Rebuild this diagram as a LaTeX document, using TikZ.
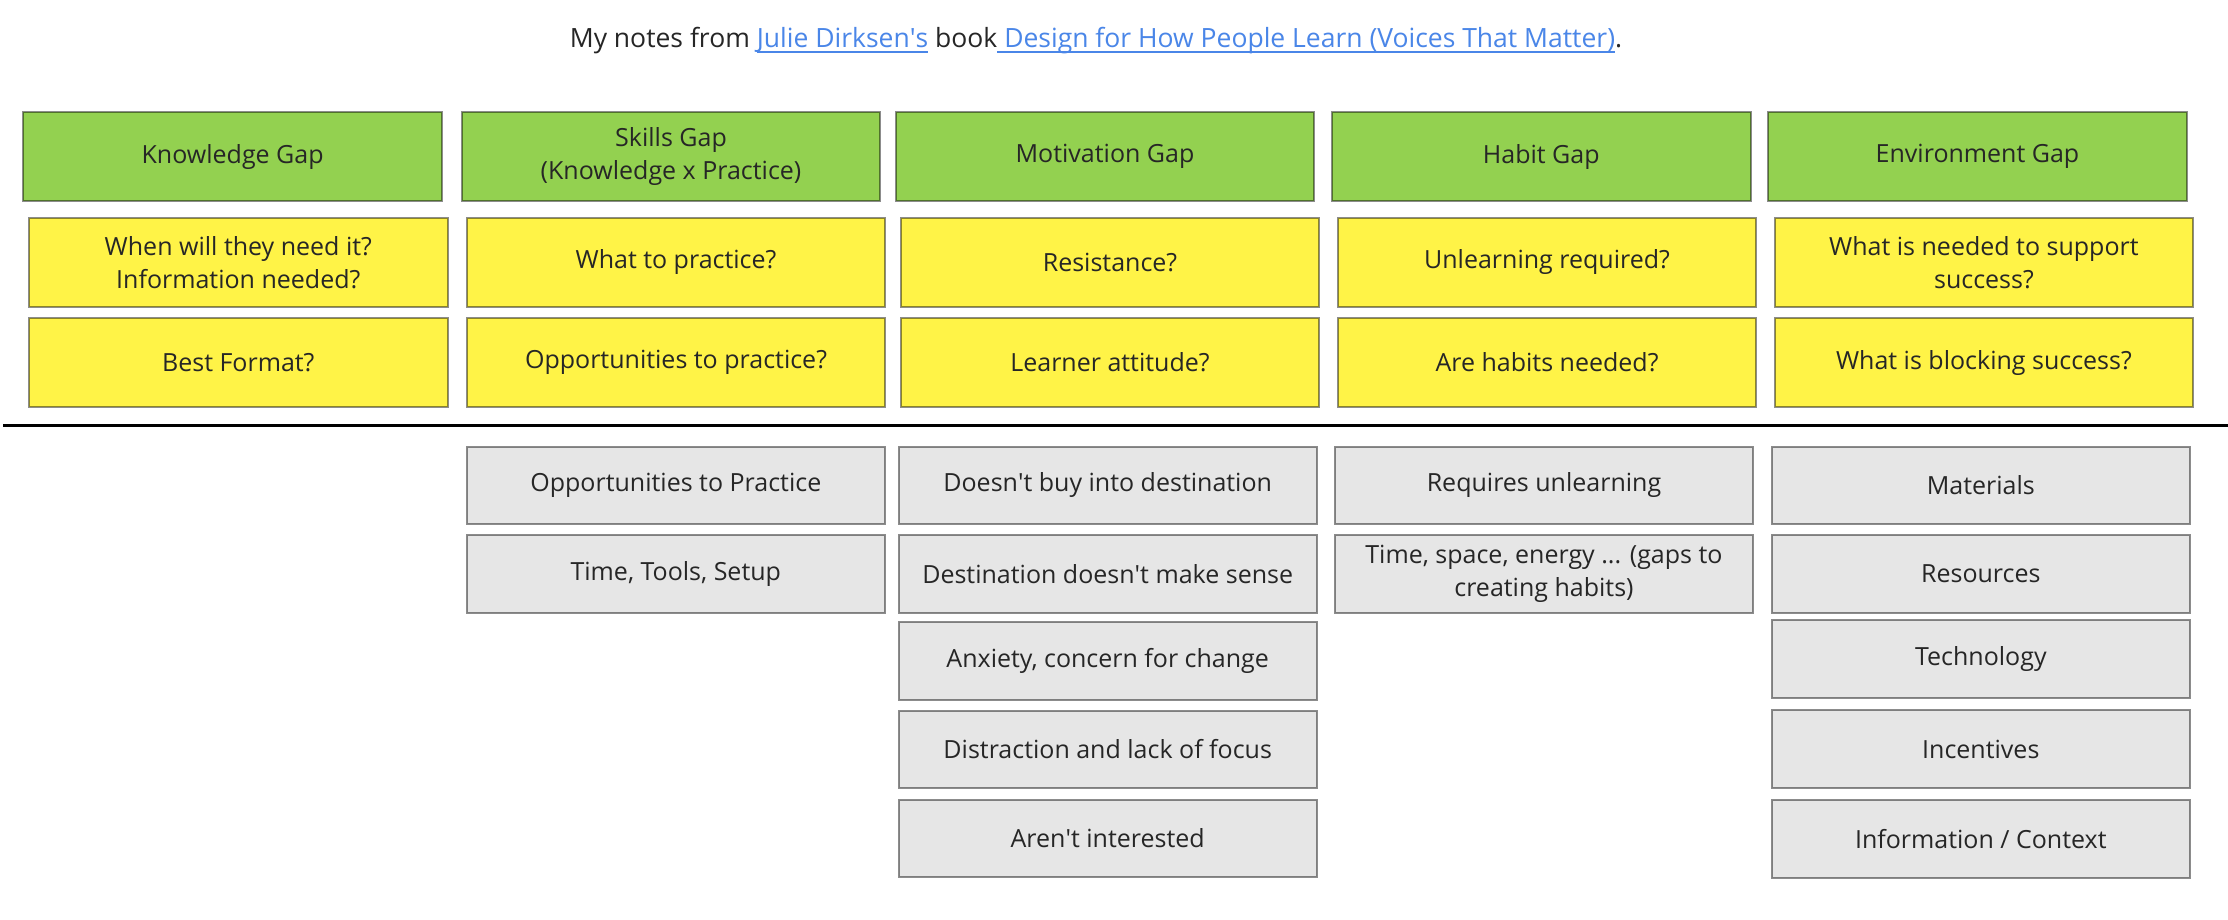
\documentclass[tikz,border=0pt]{standalone}
\usepackage{fontspec}
\setmainfont{Open Sans}
\usepackage{xcolor}
\definecolor{gapgreen}{HTML}{93D150}
\definecolor{qyellow}{HTML}{FFF347}
\definecolor{itemgray}{HTML}{E6E6E6}
\definecolor{linkblue}{HTML}{4A86E8}
\definecolor{txt}{HTML}{262626}
\newcommand\ulink[1]{\setbox0\hbox{\textcolor{linkblue}{#1}}\rlap{\textcolor{linkblue}{\rule[-5pt]{\wd0}{1.5pt}}}\box0\relax}
\newcommand\ap{\textquotesingle}
\begin{document}
\begin{tikzpicture}[x=1pt,y=-1pt,
  card/.style={draw=black, draw opacity=0.45, line width=2pt, inner sep=0pt, align=center, text=txt, font=\fontsize{25}{33}\selectfont},
  gapcard/.style={card, fill=gapgreen, minimum width=418.5pt, minimum height=88.7pt},
  qcard/.style={card, fill=qyellow, minimum width=418.5pt, minimum height=88.4pt},
  icard/.style={card, fill=itemgray, minimum width=418pt, minimum height=77.6pt}]
\useasboundingbox (0,0) rectangle (2228,920);
\fill[white] (0,0) rectangle (2228,920);
% title
\node[anchor=base, inner sep=0pt, text=txt, font=\fontsize{26.5}{33}\selectfont] (title) at (1096,48)
  {My notes from \ulink{Julie Dirksen\ap s} book\ulink{\ Design for How People Learn (Voices That Matter)}.};
% gap headers
\node[gapcard] (g1) at (232.6,156.6) {Knowledge Gap};
\node[gapcard] (g2) at (671.0,156.6) {Skills Gap\\(Knowledge x Practice)};
\node[gapcard] (g3) at (1105.0,156.6) {Motivation Gap};
\node[gapcard] (g4) at (1541.3,156.6) {Habit Gap};
\node[gapcard] (g5) at (1977.5,156.6) {Environment Gap};
% questions row 1
\node[qcard] (q11) at (238.3,262.5) {When will they need it?\\Information needed?};
\node[qcard] (q21) at (676.0,262.5) {What to practice?};
\node[qcard] (q31) at (1110.0,262.5) {Resistance?};
\node[qcard] (q41) at (1547.0,262.5) {Unlearning required?};
\node[qcard] (q51) at (1983.9,262.5) {What is needed to support\\success?};
% questions row 2
\node[qcard] (q12) at (238.3,362.6) {Best Format?};
\node[qcard] (q22) at (676.0,362.6) {Opportunities to practice?};
\node[qcard] (q32) at (1110.0,362.6) {Learner attitude?};
\node[qcard] (q42) at (1547.0,362.6) {Are habits needed?};
\node[qcard] (q52) at (1983.9,362.6) {What is blocking success?};
% separator
\coordinate (sepL) at (3,425);
\coordinate (sepR) at (2228,425);
\draw[line width=3pt, black] (sepL) -- (sepR);
% skills items
\node[icard] (s1) at (675.8,485.5) {Opportunities to Practice};
\node[icard] (s2) at (675.8,574.0) {Time, Tools, Setup};
% motivation items
\node[icard] (m1) at (1107.7,485.5) {Doesn\ap t buy into destination};
\node[icard] (m2) at (1107.7,574.0) {Destination doesn\ap t make sense};
\node[icard] (m3) at (1107.7,661.0) {Anxiety, concern for change};
\node[icard] (m4) at (1107.7,749.5) {Distraction and lack of focus};
\node[icard] (m5) at (1107.7,838.3) {Aren\ap t interested};
% habit items
\node[icard] (h1) at (1544.0,485.5) {Requires unlearning};
\node[icard] (h2) at (1544.0,574.0) {Time, space, energy ... (gaps to\\creating habits)};
% environment items
\node[icard] (e1) at (1980.8,485.5) {Materials};
\node[icard] (e2) at (1980.8,574.0) {Resources};
\node[icard] (e3) at (1980.8,659.0) {Technology};
\node[icard] (e4) at (1980.8,749.0) {Incentives};
\node[icard] (e5) at (1980.8,839.0) {Information / Context};
\end{tikzpicture}
\end{document}
